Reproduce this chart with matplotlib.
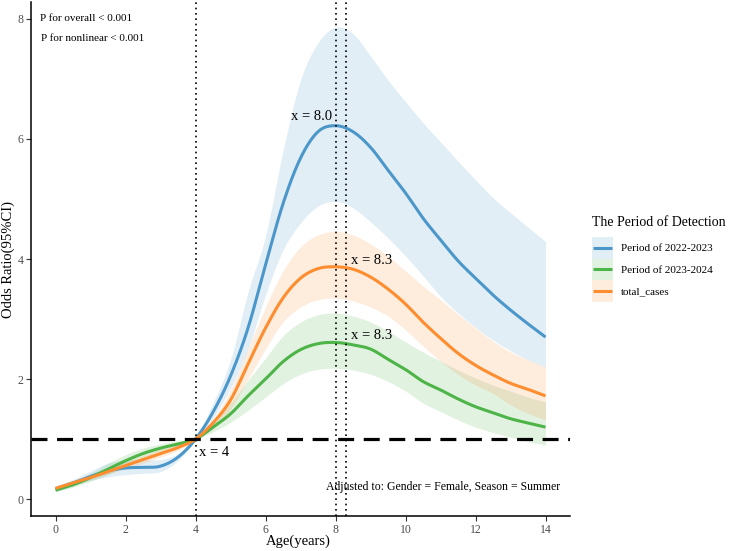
import matplotlib
matplotlib.use("Agg")
import numpy as np
import matplotlib.pyplot as plt
from matplotlib.patches import Rectangle
from matplotlib.lines import Line2D
from matplotlib.legend_handler import HandlerBase

plt.rcParams['font.family'] = ['Liberation Serif', 'DejaVu Serif']

age = [0, 0.5, 1, 1.5, 2, 2.5, 3, 3.5, 4, 4.5, 5, 5.5, 6, 6.5, 7, 7.5, 8, 8.5,
       9, 9.5, 10, 10.5, 11, 11.5, 12, 12.5, 13, 13.5, 14]

# Period of 2022-2023
p1_or = [0.17, 0.27, 0.38, 0.47, 0.52, 0.53, 0.55, 0.70, 1.00, 1.45, 2.05, 2.85, 3.90, 4.92, 5.68,
         6.12, 6.22, 6.12, 5.86, 5.48, 5.10, 4.68, 4.32, 3.97, 3.68, 3.40, 3.15, 2.92, 2.70]
p1_hi = [0.22, 0.33, 0.47, 0.60, 0.65, 0.66, 0.66, 0.76, 1.02, 1.60, 2.32, 3.45, 4.38, 5.80, 6.98,
         7.60, 7.86, 7.75, 7.38, 6.98, 6.62, 6.27, 5.95, 5.63, 5.32, 5.02, 4.77, 4.53, 4.29]
p1_lo = [0.13, 0.22, 0.31, 0.37, 0.41, 0.43, 0.46, 0.64, 0.98, 1.35, 1.85, 2.50, 3.40, 4.15, 4.60,
         4.88, 4.96, 4.85, 4.62, 4.35, 4.05, 3.72, 3.38, 3.10, 2.86, 2.65, 2.47, 2.32, 2.20]

# Period of 2023-2024
p2_or = [0.15, 0.24, 0.36, 0.50, 0.64, 0.76, 0.85, 0.92, 1.00, 1.20, 1.42, 1.72, 2.00, 2.29, 2.49,
         2.59, 2.61, 2.57, 2.50, 2.33, 2.16, 1.96, 1.82, 1.67, 1.54, 1.44, 1.34, 1.27, 1.20]
p2_hi = [0.18, 0.29, 0.43, 0.60, 0.74, 0.85, 0.92, 0.97, 1.01, 1.28, 1.60, 1.98, 2.35, 2.72, 2.95,
         3.07, 3.10, 3.05, 2.95, 2.80, 2.62, 2.45, 2.30, 2.15, 2.02, 1.90, 1.80, 1.70, 1.62]
p2_lo = [0.12, 0.20, 0.30, 0.41, 0.54, 0.66, 0.77, 0.87, 0.99, 1.12, 1.28, 1.48, 1.70, 1.92, 2.08,
         2.16, 2.18, 2.15, 2.08, 1.96, 1.80, 1.60, 1.46, 1.32, 1.20, 1.11, 1.03, 0.96, 0.90]

# total_cases
tc_or = [0.18, 0.27, 0.36, 0.46, 0.56, 0.66, 0.76, 0.86, 1.00, 1.27, 1.65, 2.25, 2.85, 3.35, 3.68,
         3.84, 3.87, 3.83, 3.70, 3.50, 3.25, 2.95, 2.68, 2.43, 2.23, 2.07, 1.93, 1.83, 1.72]
tc_hi = [0.20, 0.30, 0.40, 0.51, 0.62, 0.73, 0.83, 0.92, 1.01, 1.33, 1.82, 2.50, 3.20, 3.80, 4.20,
         4.40, 4.46, 4.40, 4.25, 4.05, 3.80, 3.55, 3.32, 3.08, 2.85, 2.63, 2.45, 2.32, 2.20]
tc_lo = [0.16, 0.24, 0.33, 0.42, 0.51, 0.60, 0.70, 0.81, 0.99, 1.18, 1.50, 2.00, 2.50, 2.95, 3.20,
         3.32, 3.35, 3.30, 3.20, 3.05, 2.82, 2.55, 2.30, 2.08, 1.90, 1.76, 1.57, 1.43, 1.32]

series_names = ["Period of 2022-2023", "Period of 2023-2024", "total_cases"]
colors = ["#4C97CA", "#4DB447", "#FD8D2E"]
x_ticks = [0, 2, 4, 6, 8, 10, 12, 14]
y_ticks = [0, 2, 4, 6, 8]
vlines = [4, 8.0, 8.3]
BAND_ALPHA = 0.16


def smooth_path(x, y, n=16):
    """Catmull-Rom curve drawn through the read points (rendering only)."""
    x = np.asarray(x, float)
    y = np.asarray(y, float)
    xp = np.concatenate([[2 * x[0] - x[1]], x, [2 * x[-1] - x[-2]]])
    yp = np.concatenate([[2 * y[0] - y[1]], y, [2 * y[-1] - y[-2]]])
    t = np.linspace(0, 1, n, endpoint=False)
    xs, ys = [], []
    for i in range(1, len(xp) - 2):
        for arr, out in ((xp, xs), (yp, ys)):
            p0, p1, p2, p3 = arr[i - 1], arr[i], arr[i + 1], arr[i + 2]
            out.extend(0.5 * ((2 * p1) + (-p0 + p2) * t + (2 * p0 - 5 * p1 + 4 * p2 - p3) * t ** 2
                              + (-p0 + 3 * p1 - 3 * p2 + p3) * t ** 3))
    xs.append(x[-1])
    ys.append(y[-1])
    return np.array(xs), np.array(ys)


class BandLineHandler(HandlerBase):
    def create_artists(self, legend, orig_handle, xdescent, ydescent, width, height,
                       fontsize, trans):
        c = orig_handle.get_color()
        rect = Rectangle((-xdescent, -ydescent), width, height, facecolor=c,
                         alpha=BAND_ALPHA, lw=0, transform=trans)
        yc = -ydescent + height / 2
        ln = Line2D([-xdescent + 1, -xdescent + width - 1], [yc, yc], color=c, lw=2.2,
                    solid_capstyle='butt', transform=trans)
        return [rect, ln]


fig = plt.figure(figsize=(7.30, 5.51), dpi=100)
ax = fig.add_axes([31/730, 35/551, 539/730, 514/551])

data = [(p1_or, p1_lo, p1_hi), (p2_or, p2_lo, p2_hi), (tc_or, tc_lo, tc_hi)]
for (o, lo, hi), c in zip(data, colors):
    sx, slo = smooth_path(age, lo)
    _, shi = smooth_path(age, hi)
    ax.fill_between(sx, slo, shi, color=c, alpha=BAND_ALPHA, lw=0)
line_handles = []
for (o, lo, hi), c in zip(data, colors):
    sx, so = smooth_path(age, o)
    ln, = ax.plot(sx, so, color=c, lw=2.2, solid_capstyle='butt')
    line_handles.append(ln)

for v in vlines:
    ax.axvline(v, color='black', lw=1.2, ls=(0, (1, 2.2)))
ax.axhline(1, color='black', lw=2.3, ls=(0, (5, 3)))

ax.text(7.91, 6.37, "x = 8.0", ha='right', va='center', fontsize=10.5)
ax.text(8.43, 3.97, "x = 8.3", ha='left', va='center', fontsize=10.5)
ax.text(8.43, 2.72, "x = 8.3", ha='left', va='center', fontsize=10.5)
ax.text(4.09, 0.78, "x = 4", ha='left', va='center', fontsize=10.5)

ax.text(-0.45, 8.0, "P for overall < 0.001", ha='left', va='center', fontsize=8)
ax.text(-0.42, 7.67, "P for nonlinear < 0.001", ha='left', va='center', fontsize=8)
ax.text(14.43, 0.2, "Adjusted to: Gender = Female, Season = Summer", ha='right', va='center', fontsize=8.5)

ax.set_xlim(-0.7, 14.7)
ax.set_ylim(-0.28, 8.28)
ax.set_xticks(x_ticks)
ax.set_yticks(y_ticks)
ax.tick_params(axis='both', colors='#333333', labelcolor='#4D4D4D', labelsize=8.5,
               length=3.5, width=0.8, pad=2)
for s in ['top', 'right']:
    ax.spines[s].set_visible(False)
for s in ['left', 'bottom']:
    ax.spines[s].set_linewidth(1.1)
ax.set_xlabel("Age(years)", fontsize=10.5)
ax.set_ylabel("Odds Ratio(95%CI)", fontsize=10.5)
ax.xaxis.set_label_coords(0.495, -0.049)
ax.yaxis.set_label_coords(-0.043, 0.5)
ax.xaxis.label.set_va('center')
ax.yaxis.label.set_va('center')

fig.text(592/730, 1 - 222/551, "The Period of Detection", ha='left', va='center', fontsize=10)
leg = fig.legend(line_handles, series_names, loc='upper left', bbox_to_anchor=(592/730, 1 - 237/551),
                 frameon=False, fontsize=8, borderpad=0.0, borderaxespad=0.0,
                 handlelength=1.9, handleheight=2.62, labelspacing=0.0, handletextpad=0.72,
                 handler_map={Line2D: BandLineHandler()})

fig.savefig("out.png", dpi=100)
